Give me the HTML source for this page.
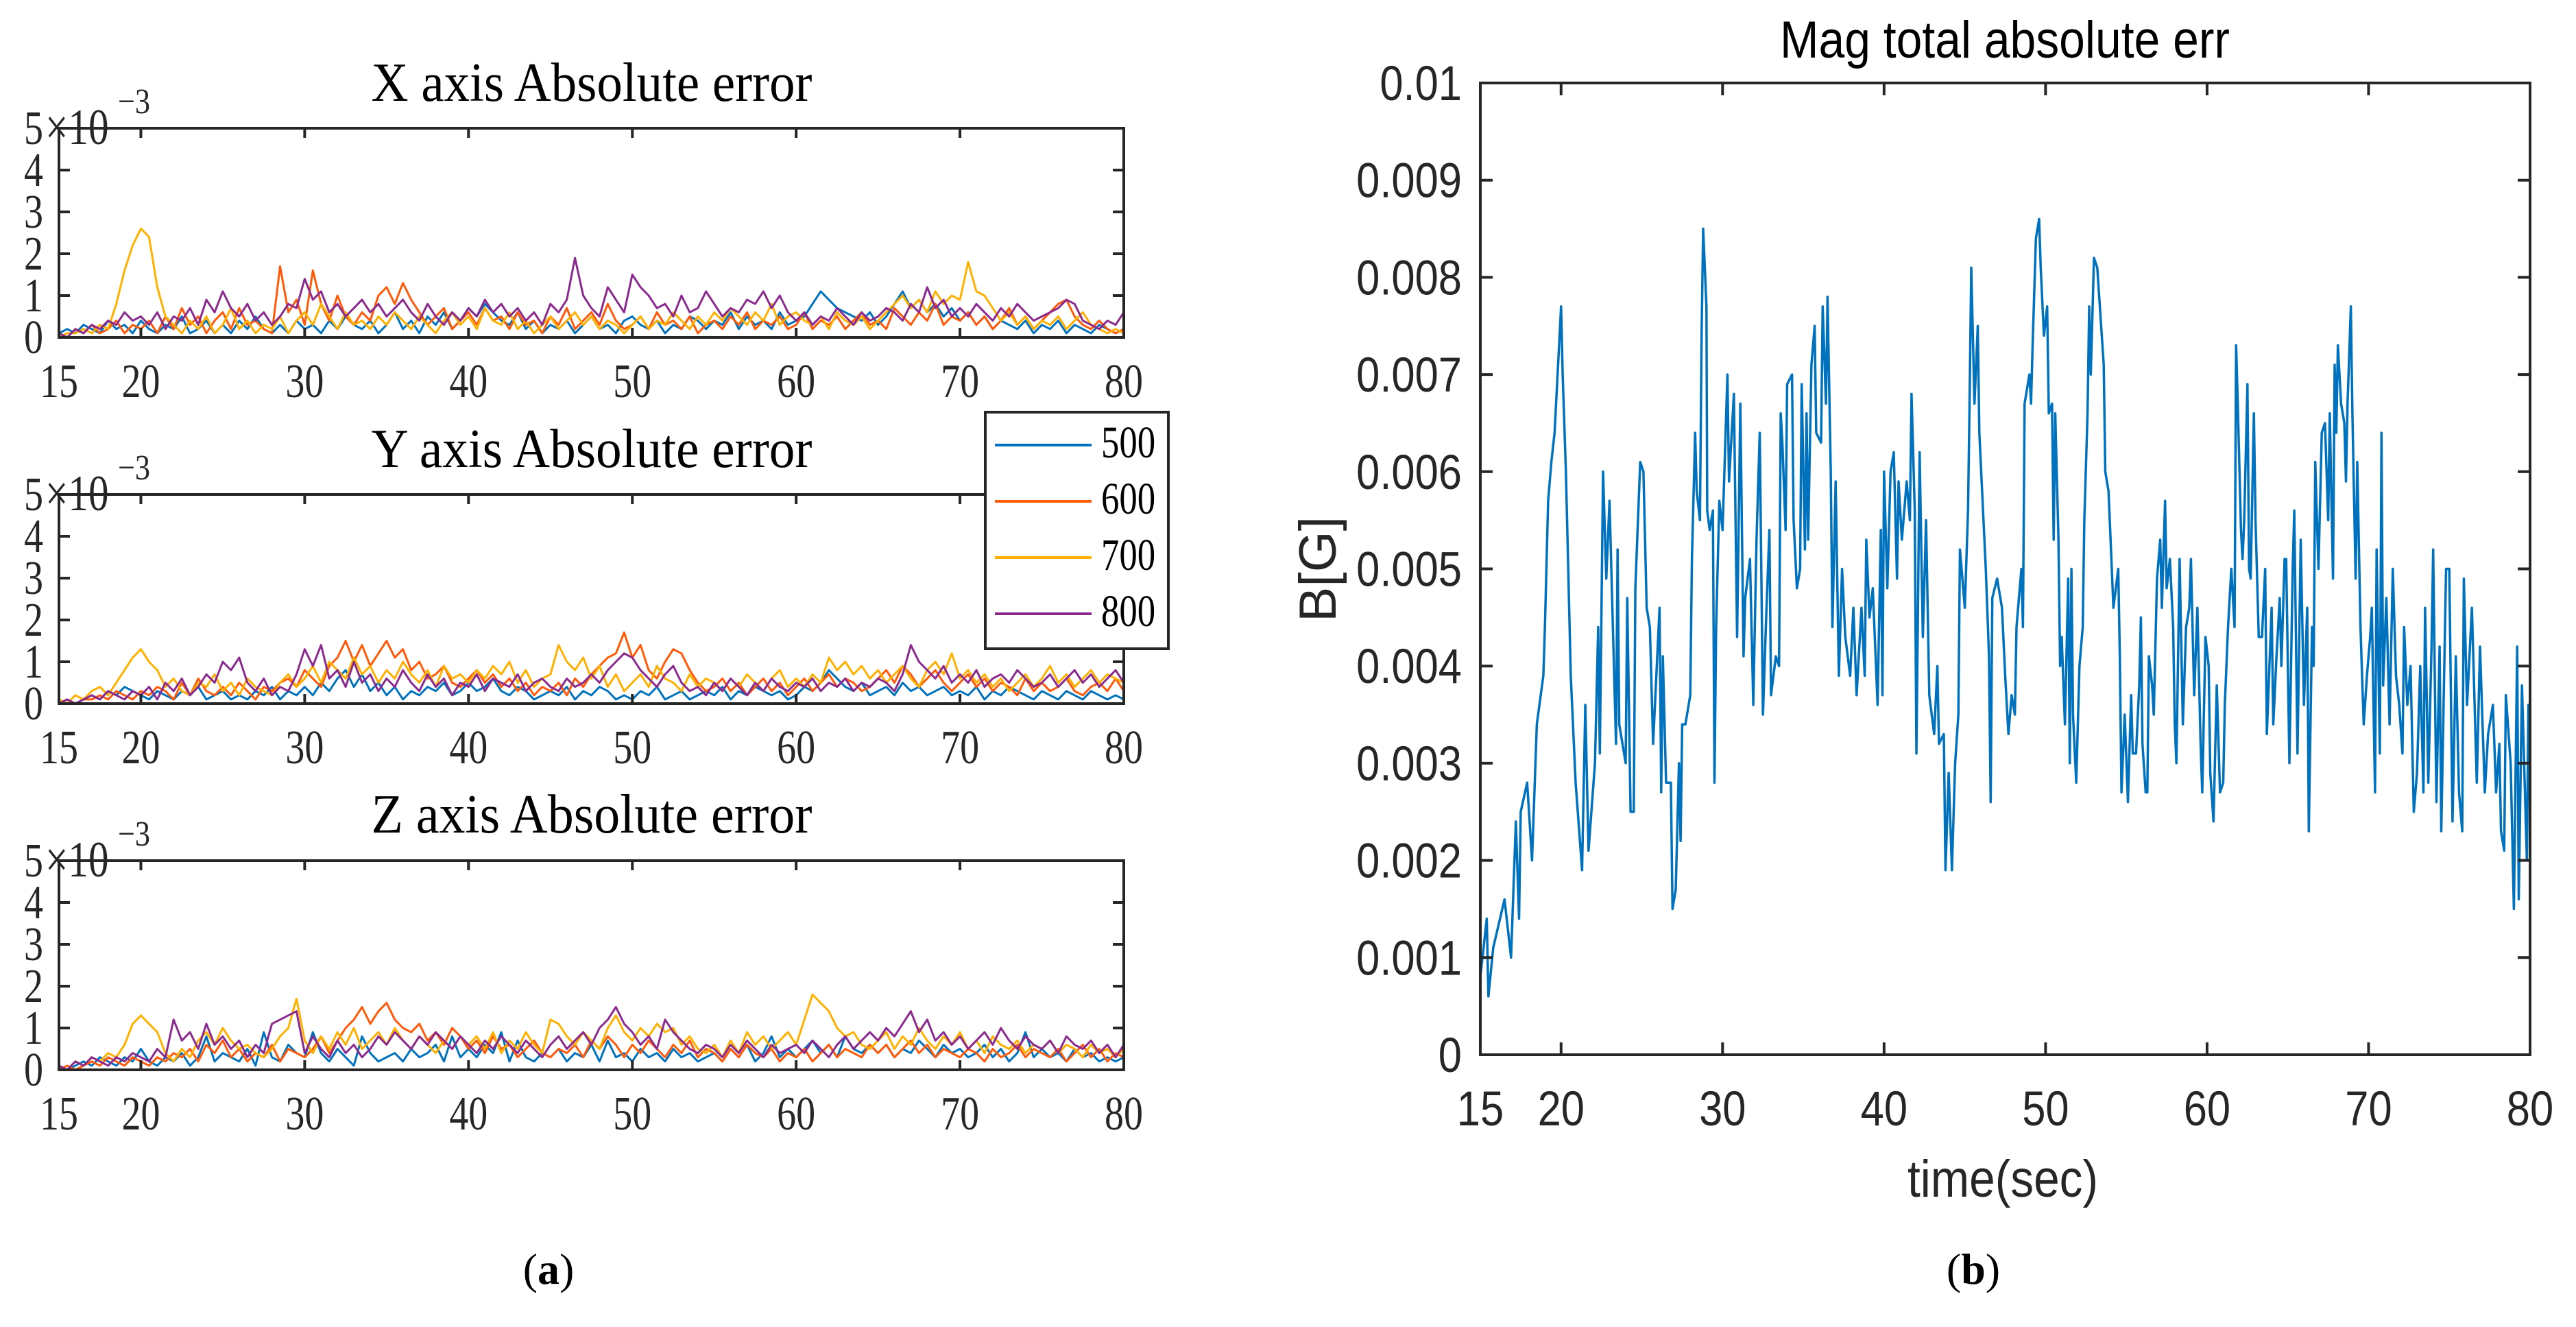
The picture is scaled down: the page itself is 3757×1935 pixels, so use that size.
<!DOCTYPE html>
<html><head><meta charset="utf-8"><style>
html,body{margin:0;padding:0;background:#fff;}
svg{display:block;}
</style></head><body>
<svg id="fig" xmlns="http://www.w3.org/2000/svg" width="3757" height="1935" viewBox="0 0 3757 1935">
<rect x="0" y="0" width="3757" height="1935" fill="#fff"/>
<g id="left"></g>
<g id="right"></g>
<text x="863" y="147" font-family="Liberation Serif, serif" font-size="80" fill="#000" text-anchor="middle" textLength="643" lengthAdjust="spacingAndGlyphs">X axis Absolute error</text>
<text x="863" y="681" font-family="Liberation Serif, serif" font-size="80" fill="#000" text-anchor="middle" textLength="643" lengthAdjust="spacingAndGlyphs">Y axis Absolute error</text>
<text x="863" y="1214" font-family="Liberation Serif, serif" font-size="80" fill="#000" text-anchor="middle" textLength="643" lengthAdjust="spacingAndGlyphs">Z axis Absolute error</text>
<text x="2924" y="84" font-family="Liberation Sans, sans-serif" font-size="76" fill="#000" text-anchor="middle" textLength="656" lengthAdjust="spacingAndGlyphs">Mag total absolute err</text>
<text x="2921" y="1745" font-family="Liberation Sans, sans-serif" font-size="76" fill="#262626" text-anchor="middle" textLength="278" lengthAdjust="spacingAndGlyphs">time(sec)</text>
<text transform="translate(1948,830) rotate(-90)" font-family="Liberation Sans, sans-serif" font-size="76" fill="#262626" text-anchor="middle" textLength="154" lengthAdjust="spacingAndGlyphs">B[G]</text>
<text x="800" y="1872" font-family="Liberation Serif, serif" font-size="64" fill="#000" text-anchor="middle">(<tspan font-weight="bold">a</tspan>)</text>
<text x="2878" y="1872" font-family="Liberation Serif, serif" font-size="64" fill="#000" text-anchor="middle">(<tspan font-weight="bold">b</tspan>)</text>
<g id="legend">
<rect x="1437" y="601" width="267" height="345" fill="#fff" stroke="#262626" stroke-width="4"/>
<g><line x1="1451" y1="649" x2="1592" y2="649" stroke="#0072BD" stroke-width="4"/><text transform="translate(1606,667) scale(0.8,1)" font-family="Liberation Serif, serif" font-size="66" fill="#000">500</text></g>
<g><line x1="1451" y1="731" x2="1592" y2="731" stroke="#FF5A0A" stroke-width="4"/><text transform="translate(1606,749) scale(0.8,1)" font-family="Liberation Serif, serif" font-size="66" fill="#000">600</text></g>
<g><line x1="1451" y1="813" x2="1592" y2="813" stroke="#FFB000" stroke-width="4"/><text transform="translate(1606,831) scale(0.8,1)" font-family="Liberation Serif, serif" font-size="66" fill="#000">700</text></g>
<g><line x1="1451" y1="895" x2="1592" y2="895" stroke="#8B2A8E" stroke-width="4"/><text transform="translate(1606,913) scale(0.8,1)" font-family="Liberation Serif, serif" font-size="66" fill="#000">800</text></g>
</g>
</svg>
<script>
// ---------- data: left panels (units of 1e-4, sampled every 0.5 s from 15 s) ----------
const leftStart = 15;
const leftStep = 0.5;
const seriesNames = ["500","600","700","800"];
const seriesColors = ["#0072BD","#FF5A0A","#FFB000","#8B2A8E"];
const xBlue = [1,2,1,3,2,1,4,2,3,1, 4,2,1,3,2,5,1,2,4,1, 3,1,4,2,5,2,1,3,1,4, 2,3,1,4,2,5,3,2,4,1, 3,6,2,4,1,5,3,6,2,4, 7,5,8,6,4,3,6,2,4,1, 3,2,4,1,3,5,2,3,1,4, 5,3,2,4,1,3,2,5,4,2, 4,3,6,2,5,3,4,2,6,3, 4,5,8,11,9,7,6,5,4,6, 3,5,8,11,7,9,6,8,5,7, 4,6,3,5,2,4,3,2,4,1, 3,2,4,1,3,2,1,3,2,1, 2];
const xOrange = [1,0,2,1,3,1,2,4,1,3, 2,4,1,5,2,7,3,5,1,4, 6,2,7,3,4,2,1,17,6,9, 3,16,8,4,10,5,3,6,4,10, 12,8,13,9,6,3,5,7,2,4, 6,3,7,4,5,2,6,3,4,1, 5,3,7,2,4,6,3,8,4,2, 3,5,2,6,3,4,2,5,1,3, 4,2,5,3,6,2,4,3,5,2, 3,6,2,4,3,5,2,4,6,3, 4,2,7,5,3,6,4,8,3,5, 4,6,3,5,2,4,7,3,5,2, 4,6,8,9,5,3,2,4,2,1, 2];
const xYellow = [0,1,1,2,1,3,2,8,16,22, 26,24,12,5,3,1,4,2,5,1, 3,7,2,4,1,3,2,5,1,4, 6,3,8,5,2,6,3,4,2,5, 3,6,4,2,5,3,1,4,6,3, 5,2,7,4,3,6,2,4,1,3, 5,2,4,6,3,5,2,4,3,1, 3,5,2,4,3,6,4,2,5,3, 6,4,7,5,3,6,4,8,3,5, 6,4,3,5,2,6,4,3,5,2, 4,6,8,10,7,9,6,11,8,10, 9,18,11,10,7,4,6,3,5,2, 4,3,5,2,4,6,3,2,1,2, 1];
const xPurple = [1,0,2,1,3,2,4,3,6,4, 5,3,6,2,5,4,7,3,9,6, 11,7,5,8,4,6,3,5,8,7, 14,9,11,6,8,5,7,9,6,8, 5,7,9,6,4,8,5,3,6,4, 7,5,9,6,8,5,7,4,6,3, 8,6,9,19,10,7,5,12,9,6, 15,12,10,7,8,5,10,6,7,11, 8,5,7,6,9,8,11,7,10,6, 4,6,3,5,4,7,5,3,6,4, 5,7,6,4,8,6,12,7,9,5, 7,5,8,6,4,7,5,8,6,4, 5,6,7,9,8,4,3,2,4,3, 6];
const yBlue = [0,1,0,1,2,1,3,2,4,3, 2,1,3,2,1,3,2,4,1,2, 3,1,2,1,3,2,4,1,3,2, 4,2,5,3,6,8,4,7,3,5, 2,4,1,3,2,4,3,5,2,3, 5,3,4,6,3,2,4,3,1,2, 3,2,4,1,3,2,4,3,1,2, 1,3,2,4,1,2,3,1,2,3, 2,4,1,3,2,4,3,2,3,1, 2,4,3,5,8,6,4,3,5,2, 3,4,2,5,3,4,2,3,4,2, 3,2,4,1,3,2,4,3,2,1, 3,2,1,3,2,1,3,2,1,2, 1];
const yOrange = [0,1,0,1,1,2,1,3,2,1, 3,2,4,3,1,5,2,6,3,2, 4,2,5,3,1,4,3,5,6,4, 8,6,4,9,11,15,10,14,9,12, 15,11,13,8,10,6,7,9,5,4, 6,8,5,7,4,6,3,5,2,4, 3,5,2,6,4,7,9,11,12,17, 11,14,8,6,10,13,12,8,5,3, 4,6,3,5,2,4,6,3,5,2, 4,6,3,5,7,4,6,5,3,4, 6,8,5,9,7,4,6,8,5,3, 5,7,4,6,3,5,4,2,6,3, 5,3,4,6,3,2,4,5,3,6, 3];
const yYellow = [1,0,2,1,3,4,2,5,8,11, 13,10,8,4,6,3,2,5,4,7, 3,5,2,6,4,3,2,5,7,4, 6,9,5,10,8,6,11,7,9,5, 8,6,10,7,5,8,4,9,6,7, 5,8,6,9,7,10,5,8,4,6, 7,14,10,8,11,6,9,4,7,3, 5,7,4,9,6,5,3,7,4,6, 5,3,6,4,7,5,3,6,8,4, 6,4,7,5,11,8,10,7,9,6, 8,5,7,9,6,4,8,10,7,12, 6,8,5,7,4,6,3,5,7,4, 6,9,5,7,4,6,8,5,7,6, 5];
const yPurple = [0,1,0,1,2,1,3,2,1,3, 2,4,1,5,3,6,2,4,7,5, 10,8,11,5,3,6,2,4,3,7, 13,9,14,6,8,4,10,5,7,3, 6,4,8,5,3,7,4,6,2,5, 4,7,3,6,5,4,7,3,5,6, 4,3,6,4,5,7,5,8,10,12, 11,8,6,4,7,9,5,3,4,2, 5,3,6,4,2,5,3,6,4,3, 5,4,6,3,5,4,6,3,5,4, 6,5,3,7,14,10,8,6,9,5, 7,5,8,4,6,7,5,8,6,4, 5,7,4,6,8,5,7,4,6,8, 5];
const zBlue = [1,0,1,2,1,3,2,1,3,2, 5,2,1,3,2,4,1,3,8,2, 4,3,2,5,1,9,3,2,6,4, 3,9,4,2,5,3,1,8,4,2, 3,4,2,5,3,4,6,2,8,3, 5,3,6,4,9,2,7,3,2,4, 3,5,2,4,3,6,2,7,3,4, 2,5,3,4,2,5,3,4,2,3, 4,2,5,3,6,2,4,8,3,5, 3,5,7,4,6,3,8,5,4,6, 4,6,3,5,4,7,5,3,6,4, 5,3,4,6,3,5,2,4,9,3, 5,3,4,2,5,3,4,2,3,2, 3];
const zOrange = [0,1,0,1,2,1,3,2,1,3, 2,1,3,2,4,3,5,2,6,4, 7,3,5,2,4,3,6,2,5,4, 3,5,8,4,7,10,12,15,11,14, 16,12,10,9,11,7,9,6,10,8, 5,7,4,8,5,6,3,5,7,4, 3,5,4,6,3,7,5,8,6,3, 6,4,7,5,3,6,4,7,3,5, 4,2,5,3,6,4,3,5,2,4, 3,5,2,4,6,3,5,4,3,6, 4,6,3,5,7,4,6,3,5,4, 3,5,4,2,5,3,4,6,3,5, 4,3,5,2,4,6,3,5,2,4, 3];
const zYellow = [1,0,2,1,3,2,4,3,6,11, 13,11,9,4,2,5,3,7,9,6, 10,7,5,6,4,3,5,8,10,17, 7,4,8,5,9,6,10,5,7,9, 6,10,7,5,8,6,4,7,5,8, 6,8,5,9,4,7,5,9,6,4, 12,11,8,6,9,7,5,10,13,9, 7,10,8,11,9,10,6,8,5,4, 6,3,7,4,9,6,8,5,7,9, 6,12,18,16,14,10,8,9,6,5, 7,9,5,8,6,10,7,5,8,6, 9,5,7,4,8,6,5,7,4,6, 5,7,4,6,5,3,6,4,5,3, 5];
const zPurple = [1,0,2,1,3,2,1,3,2,4, 3,2,5,3,12,7,9,5,11,6, 8,5,7,3,6,4,11,12,13,14, 4,8,5,3,7,4,6,3,5,8, 6,9,7,5,8,6,9,7,5,8, 6,4,7,5,8,6,4,7,5,3, 6,8,5,7,9,6,10,12,15,11, 9,6,8,5,12,9,7,5,4,6, 5,3,6,4,7,5,3,6,4,5, 6,4,7,5,3,6,8,5,7,9, 7,10,8,11,14,9,12,7,9,6, 8,5,7,9,6,10,7,5,8,6, 5,7,4,8,6,5,7,4,6,3, 6];
const leftXTicks = [15,20,30,40,50,60,70,80];
const leftXTickLabels = ["15","20","30","40","50","60","70","80"];
const leftYTicks = [0,1,2,3,4,5];
const leftYTickLabels = ["0","1","2","3","4","5"];

// ---------- data: right panel ----------
const magTime = [15,15.4,15.5,15.8,16.5,16.9,17.2,17.4,17.5,17.9,18.2,18.5,18.9,19.0,19.2,19.4,19.6,20,20.1,20.3,20.4,20.6,20.9,21.3,21.5,21.7,22.1,22.3,22.4,22.6,22.8,23.0,23.4,23.5,23.6,24.0,24.1,24.3,24.5,24.6,24.9,25.1,25.3,25.5,25.7,26.1,26.2,26.3,26.5,26.8,26.9,27.1,27.3,27.4,27.5,27.7,28.0,28.1,28.3,28.4,28.6,28.7,28.8,29.0,29.05,29.2,29.4,29.5,29.6,29.8,30.0,30.3,30.4,30.7,30.9,31.1,31.3,31.4,31.7,31.9,32.1,32.3,32.5,32.7,32.9,33.0,33.3,33.5,33.6,33.7,33.9,34.0,34.3,34.4,34.6,34.8,34.9,35.1,35.2,35.3,35.5,35.7,35.8,36.1,36.2,36.4,36.5,36.7,36.8,37.0,37.2,37.4,37.6,37.9,38.1,38.3,38.6,38.8,38.9,39.1,39.3,39.6,39.8,39.9,40.0,40.2,40.4,40.6,40.8,40.9,41.1,41.4,41.6,41.7,41.9,42.0,42.2,42.4,42.6,42.8,43.1,43.3,43.4,43.7,43.8,44.0,44.2,44.4,44.6,44.7,45.0,45.2,45.3,45.4,45.6,45.8,45.9,46.1,46.3,46.5,46.6,46.7,47.0,47.3,47.5,47.7,47.9,48.1,48.2,48.5,48.6,48.7,49.0,49.1,49.2,49.4,49.6,49.7,49.9,50.1,50.2,50.4,50.5,50.6,50.8,50.9,51.0,51.2,51.4,51.5,51.6,51.7,51.9,52.1,52.3,52.4,52.6,52.7,52.8,53.0,53.2,53.4,53.6,53.7,53.9,54.1,54.2,54.5,54.6,54.7,54.9,55.1,55.3,55.4,55.6,55.8,55.9,56.0,56.2,56.3,56.4,56.6,56.7,56.9,57.1,57.2,57.4,57.5,57.7,57.9,58.0,58.1,58.3,58.5,58.7,58.9,59.0,59.2,59.4,59.6,59.7,59.9,60.1,60.2,60.4,60.6,60.8,61.0,61.1,61.3,61.5,61.7,61.8,61.9,62.1,62.2,62.3,62.5,62.6,62.7,62.9,63.0,63.2,63.4,63.6,63.7,64.0,64.1,64.3,64.5,64.6,64.8,64.9,65.1,65.3,65.4,65.6,65.8,66.0,66.2,66.3,66.5,66.6,66.7,66.9,67.1,67.3,67.5,67.6,67.8,67.9,68.0,68.1,68.3,68.5,68.6,68.7,68.9,69.0,69.2,69.3,69.5,69.6,69.7,69.9,70.1,70.2,70.4,70.5,70.7,70.8,70.9,71.1,71.3,71.5,71.7,71.9,72.1,72.2,72.4,72.6,72.8,73.0,73.2,73.4,73.5,73.7,73.9,74.0,74.2,74.4,74.5,74.8,75.0,75.2,75.4,75.6,75.8,75.9,76.1,76.4,76.7,76.9,77.2,77.4,77.7,77.9,78.1,78.2,78.4,78.5,78.8,79.0,79.2,79.3,79.5,79.8,79.9,80];
const magValue = [8,14,6,11,16,10,24,14,25,28,20,34,39,44,57,61,64,77,70,60,53,39,28,19,36,21,30,44,31,60,49,57,32,52,34,30,47,25,25,48,61,60,46,44,32,46,27,41,28,28,15,17,30,22,34,34,37,51,64,58,55,74,85,77,56,54,56,28,44,57,54,70,59,68,43,67,41,47,51,36,53,64,35,45,54,37,41,40,66,63,54,69,70,55,48,50,69,52,66,53,71,75,64,63,77,67,78,60,44,59,39,50,43,39,46,37,46,39,53,45,48,36,54,37,60,48,60,62,49,59,53,59,55,68,56,31,62,43,55,37,33,40,32,33,19,29,19,30,35,52,46,56,68,81,67,75,64,57,50,41,26,47,49,46,39,33,37,35,44,50,44,67,70,67,73,84,86,81,74,77,66,67,53,66,53,40,43,34,49,30,50,35,28,40,44,55,66,77,70,82,81,76,71,60,58,50,46,50,41,27,35,26,37,31,31,38,45,32,27,27,41,38,35,49,53,46,57,48,51,44,34,30,51,34,44,46,51,37,46,32,27,43,40,29,24,38,27,28,36,44,50,44,73,67,54,51,55,69,50,49,66,55,43,43,50,33,46,34,41,47,40,51,51,30,50,56,31,53,36,46,23,44,40,61,50,64,65,55,66,49,71,64,73,67,65,59,67,77,66,49,61,44,39,34,39,43,46,27,52,31,64,38,47,34,50,39,36,31,44,36,40,25,29,40,27,46,28,42,52,26,42,23,50,50,24,41,27,23,49,36,46,28,42,27,33,36,27,32,23,21,37,30,15,42,16,38,20,36,36];
const magXTicks = [15,20,30,40,50,60,70,80];
const magXTickLabels = ["15","20","30","40","50","60","70","80"];
const magYTicks = [0,0.001,0.002,0.003,0.004,0.005,0.006,0.007,0.008,0.009,0.01];
const magYTickLabels = ["0","0.001","0.002","0.003","0.004","0.005","0.006","0.007","0.008","0.009","0.01"];

const NS = "http://www.w3.org/2000/svg";
const AX = "#262626";
function mk(tag, attrs, parent){
  const e = document.createElementNS(NS, tag);
  for (const k in attrs) e.setAttribute(k, attrs[k]);
  parent.appendChild(e);
  return e;
}

// ---------- left panels ----------
const leftG = document.getElementById('left');
const L = {x0: 86, x1: 1639, h: 305};
const panelTops = [187, 721, 1255];
const panelKeys = ["x","y","z"];
const panelData = [[xBlue,xOrange,xYellow,xPurple],[yBlue,yOrange,yYellow,yPurple],[zBlue,zOrange,zYellow,zPurple]];
function lx(t){ return L.x0 + (t - 15) / 65 * (L.x1 - L.x0); }
panelTops.forEach((top, p) => {
  const bottom = top + L.h;
  const ly = v => bottom - v / 50 * L.h;   // v in 1e-4, axis 0..5e-3
  const tickY = k => bottom - k / 5 * L.h; // tick in 1e-3
  const g = mk('g', {}, leftG);
  
  
  panelData[p].forEach((arr, s) => {
    let d = '';
    arr.forEach((v, i) => { const t = leftStart + leftStep * i; d += (i ? 'L' : 'M') + lx(t).toFixed(1) + ' ' + ly(v).toFixed(1); });
    const path = mk('path', {d: d, fill: 'none', stroke: seriesColors[s], 'stroke-width': 3, 'stroke-linejoin': 'round'}, g);
    
    
  });
  const fr = mk('rect', {x: L.x0, y: top, width: L.x1 - L.x0, height: L.h, fill: 'none', stroke: AX, 'stroke-width': 4}, g);
  
  
  leftXTicks.forEach((t, i) => {
    const x = lx(t);
    const tk = mk('path', {d: `M${x} ${top}V${top + 14}M${x} ${bottom}V${bottom - 14}`, stroke: AX, 'stroke-width': 4}, g);
    
    
    const lb = mk('text', {transform: `translate(${x},${bottom + 87}) scale(0.8,1)`, 'font-family': 'Liberation Serif, serif', 'font-size': 70, fill: AX, 'text-anchor': 'middle'}, g);
    lb.textContent = leftXTickLabels[i];
    
    
  });
  leftYTicks.forEach((v, i) => {
    const y = tickY(v);
    const tk = mk('path', {d: `M${L.x0} ${y}H${L.x0 + 16}M${L.x1} ${y}H${L.x1 - 16}`, stroke: AX, 'stroke-width': 4}, g);
    
    
    const lb = mk('text', {transform: `translate(63,${y + 23}) scale(0.8,1)`, 'font-family': 'Liberation Serif, serif', 'font-size': 70, fill: AX, 'text-anchor': 'end'}, g);
    lb.textContent = leftYTickLabels[i];
    
    
  });
  const ex = mk('text', {transform: `translate(66,${top + 23}) scale(0.8,1)`, 'font-family': 'Liberation Serif, serif', 'font-size': 74, fill: AX}, g);
  ex.textContent = '×10';
  
  
  const ex2 = mk('text', {transform: `translate(172,${top - 22}) scale(0.85,1)`, 'font-family': 'Liberation Serif, serif', 'font-size': 52, fill: AX}, g);
  ex2.textContent = '−3';
  
  
});

// ---------- right panel ----------
const rightG = document.getElementById('right');
const R = {x0: 2159, x1: 3690, y0: 121, y1: 1538};
function rx(t){ return R.x0 + (t - 15) / 65 * (R.x1 - R.x0); }
function ry(v){ return R.y1 - v / 0.01 * (R.y1 - R.y0); }
let md = '';
magTime.forEach((t, i) => { md += (i ? 'L' : 'M') + rx(t).toFixed(1) + ' ' + ry(magValue[i] * 1e-4).toFixed(1); });
const mline = mk('path', {d: md, fill: 'none', stroke: '#0072BD', 'stroke-width': 3.5, 'stroke-linejoin': 'round'}, rightG);


const rfr = mk('rect', {x: R.x0, y: R.y0, width: R.x1 - R.x0, height: R.y1 - R.y0, fill: 'none', stroke: AX, 'stroke-width': 4}, rightG);


magXTicks.forEach((t, i) => {
  const x = rx(t);
  const tk = mk('path', {d: `M${x} ${R.y0}V${R.y0 + 18}M${x} ${R.y1}V${R.y1 - 18}`, stroke: AX, 'stroke-width': 4}, rightG);
  
  
  const lb = mk('text', {transform: `translate(${x},1641) scale(0.866,1)`, 'font-family': 'Liberation Sans, sans-serif', 'font-size': 71, fill: AX, 'text-anchor': 'middle'}, rightG);
  lb.textContent = magXTickLabels[i];
  
  
});
magYTicks.forEach((v, i) => {
  const y = ry(v);
  const tk = mk('path', {d: `M${R.x0} ${y}H${R.x0 + 18}M${R.x1} ${y}H${R.x1 - 18}`, stroke: AX, 'stroke-width': 4}, rightG);
  
  
  const lb = mk('text', {transform: `translate(2132,${y + 25}) scale(0.866,1)`, 'font-family': 'Liberation Sans, sans-serif', 'font-size': 71, fill: AX, 'text-anchor': 'end'}, rightG);
  lb.textContent = magYTickLabels[i];
  
  
});
</script>
</body></html>
